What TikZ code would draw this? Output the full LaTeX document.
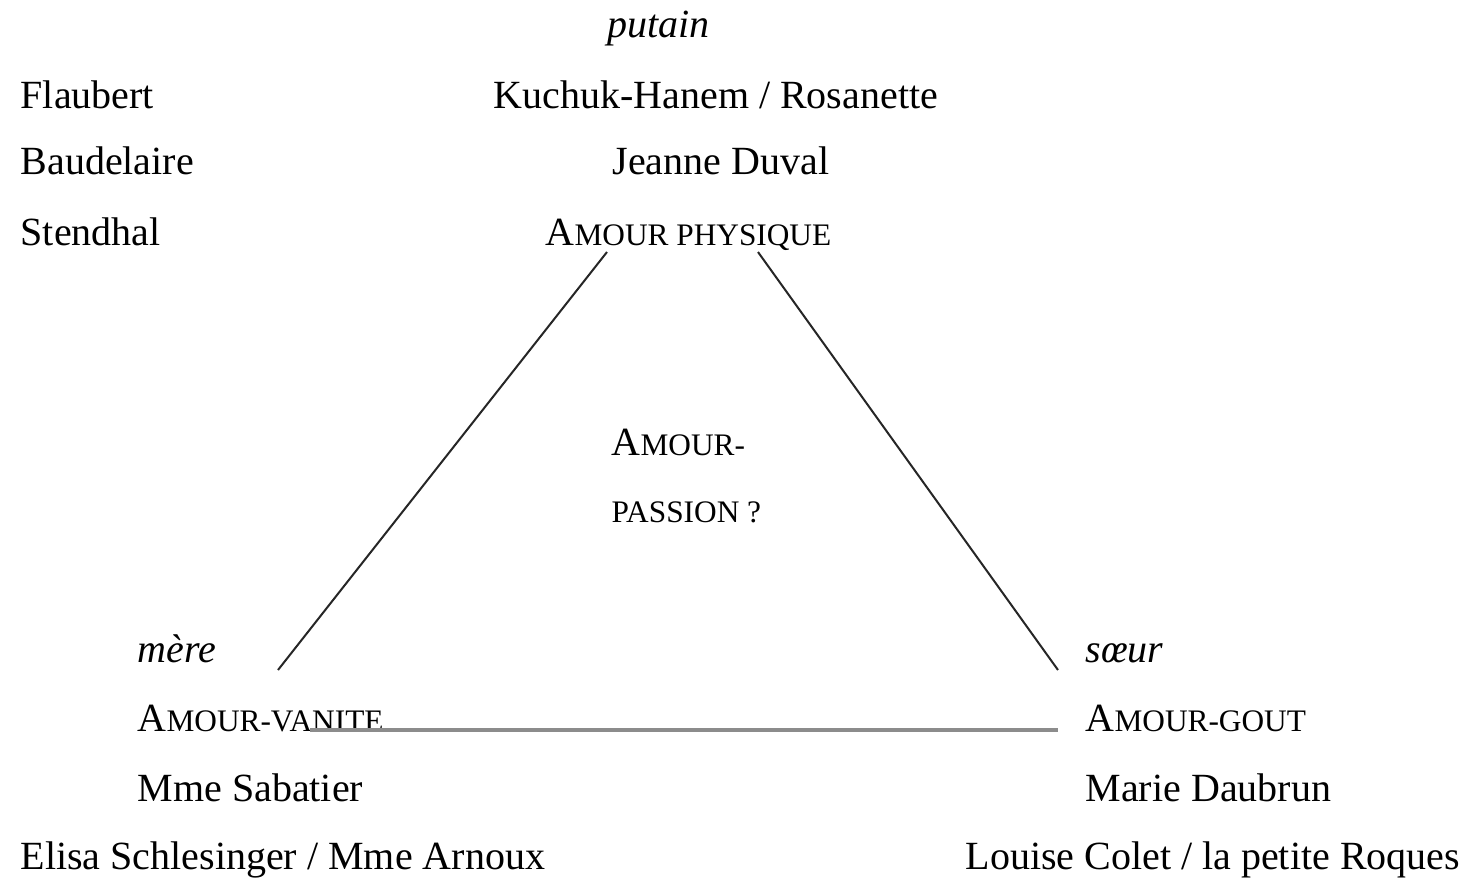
\documentclass[tikz,border=0pt]{standalone}
\usepackage{fontspec}
\setmainfont{Liberation Serif}
\usepackage{tikz}
\newcommand\pcap[2]{#1{\fontsize{9.4pt}{10pt}\selectfont #2}}

\begin{document}
\begin{tikzpicture}[x=0.3pt, y=-0.3pt,
		lbl/.style={anchor=base west, inner sep=0pt, font=\fontsize{12pt}{14pt}\selectfont},
		side/.style={line width=0.6pt, black!85},
		base/.style={line width=1pt, black!45}]
			\useasboundingbox (0,0) rectangle (1471,878);
			% top corner
			\node[lbl] (putain) at (607,37) {\itshape putain};
			\node[lbl] (flaubert) at (20,108) {Flaubert};
			\node[lbl] (kuchuk) at (493,108) {Kuchuk-Hanem / Rosanette};
			\node[lbl] (baudelaire) at (20,174) {Baudelaire};
			\node[lbl] (duval) at (612,174) {Jeanne Duval};
			\node[lbl] (stendhal) at (20,245) {Stendhal};
			\node[lbl] (physique) at (545,245) {\pcap{A}{MOUR PHYSIQUE}};
			% middle
			\node[lbl] (passionA) at (611,455) {\pcap{A}{MOUR-}};
			\node[lbl] (passionB) at (611,522) {\pcap{}{PASSION ?}};
			% left corner
			\node[lbl] (mere) at (137,662) {\itshape mère};
			\node[lbl] (vanite) at (137,731) {\pcap{A}{MOUR-VANITE}};
			\node[lbl] (sabatier) at (137,801) {Mme Sabatier};
			\node[lbl] (elisa) at (20,869) {Elisa Schlesinger / Mme Arnoux};
			% right corner
			\node[lbl] (soeur) at (1085,662) {\itshape sœur};
			\node[lbl] (gout) at (1085,731) {\pcap{A}{MOUR-GOUT}};
			\node[lbl] (daubrun) at (1085,801) {Marie Daubrun};
			\node[lbl] (colet) at (965,869) {Louise Colet / la petite Roques};
			% triangle
			\coordinate (topL) at (607,252);
			\coordinate (topR) at (758,252);
			\coordinate (botL) at (278,670);
			\coordinate (botR) at (1058,670);
			\coordinate (baseL) at (310,730);
			\coordinate (baseR) at (1058,730);
			\draw[side] (topL)--(botL);
			\draw[side] (topR)--(botR);
			\draw[base] (baseL)--(baseR);
		\end{tikzpicture}
\end{document}
